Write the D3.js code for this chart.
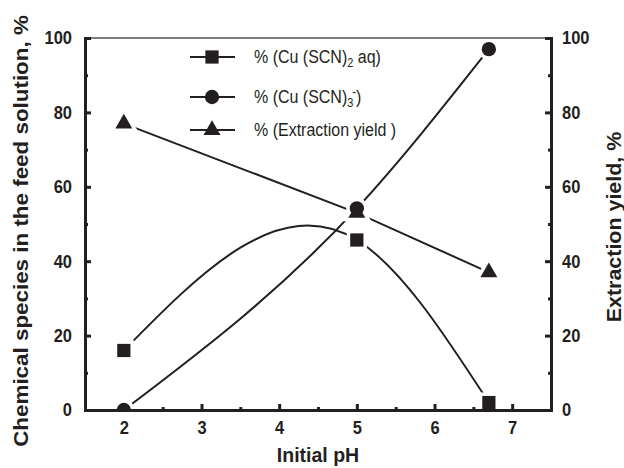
<!DOCTYPE html>
<html>
<head>
<meta charset="utf-8">
<script src="https://cdn.jsdelivr.net/npm/d3@7"></script>
<style>
  html, body { margin: 0; padding: 0; background: #fff; }
  svg { display: block; font-family: 'Liberation Sans', Arial, sans-serif; }
</style>
</head>
<body>
<div id="chart"></div>
<script>
// Data
const phValues = [2, 5, 6.7];
const cuScn2Aq = [16, 45.7, 2];      // % (Cu(SCN)2 aq)
const cuScn3 = [0, 54.2, 97];        // % (Cu(SCN)3-)
const extractionYield = [77, 53, 37]; // % extraction yield
const xTicks = [2, 3, 4, 5, 6, 7];
const xMinorTicks = [2.5, 3.5, 4.5, 5.5, 6.5];
const yTicks = [0, 20, 40, 60, 80, 100];
const yMinorTicks = [10, 30, 50, 70, 90];

const ink = '#231f20';
const width = 624, height = 468;
const margin = { top: 38, right: 73, bottom: 58, left: 85 };

// Natural cubic spline in x, passed to d3.line as a curve factory
function curveNaturalX(context) {
  let xs, ys;
  return {
    areaStart() {}, areaEnd() {},
    lineStart() { xs = []; ys = []; },
    point(x, y) { xs.push(+x); ys.push(+y); },
    lineEnd() {
      const n = xs.length;
      if (!n) return;
      context.moveTo(xs[0], ys[0]);
      if (n < 3) { if (n === 2) context.lineTo(xs[1], ys[1]); return; }
      const h = [], s = [];
      for (let i = 0; i < n - 1; i++) { h[i] = xs[i + 1] - xs[i]; s[i] = (ys[i + 1] - ys[i]) / h[i]; }
      const a = [], b = [], c = [], r = [];
      for (let i = 1; i < n - 1; i++) {
        a.push(h[i - 1]); b.push(2 * (h[i - 1] + h[i])); c.push(h[i]); r.push(6 * (s[i] - s[i - 1]));
      }
      const m = b.length;
      for (let i = 1; i < m; i++) { const w = a[i] / b[i - 1]; b[i] -= w * c[i - 1]; r[i] -= w * r[i - 1]; }
      const M = new Array(n).fill(0);
      M[m] = r[m - 1] / b[m - 1];
      for (let i = m - 2; i >= 0; i--) M[i + 1] = (r[i] - c[i] * M[i + 2]) / b[i];
      for (let i = 0; i < n - 1; i++) {
        const d0 = s[i] - h[i] * (2 * M[i] + M[i + 1]) / 6;
        const d1 = s[i] + h[i] * (M[i] + 2 * M[i + 1]) / 6;
        context.bezierCurveTo(xs[i] + h[i] / 3, ys[i] + d0 * h[i] / 3,
          xs[i + 1] - h[i] / 3, ys[i + 1] - d1 * h[i] / 3, xs[i + 1], ys[i + 1]);
      }
    }
  };
}

const series = [
  { name: 'sq', values: cuScn2Aq, symbol: d3.symbolSquare, size: 175, curve: curveNaturalX },
  { name: 'ci', values: cuScn3, symbol: d3.symbolCircle, size: 160, curve: curveNaturalX },
  { name: 'tr', values: extractionYield, symbol: d3.symbolTriangle, size: 125, curve: d3.curveLinear }
];

const svg = d3.select('#chart')
  .append('svg')
  .attr('width', width)
  .attr('height', height);

// Scales
const x = d3.scaleLinear().domain([1.5, 7.5]).range([margin.left, width - margin.right]);
const y = d3.scaleLinear().domain([0, 100]).range([height - margin.bottom, margin.top]);

svg.append('clipPath').attr('id', 'plot-clip')
  .append('rect')
  .attr('x', x(1.5)).attr('y', y(100))
  .attr('width', x(7.5) - x(1.5)).attr('height', y(0) - y(100));

const plot = svg.append('g').attr('clip-path', 'url(#plot-clip)');

// Lines
series.forEach(s => {
  plot.append('path')
    .datum(phValues.map((p, i) => [p, s.values[i]]))
    .attr('fill', 'none')
    .attr('stroke', ink)
    .attr('stroke-width', 2)
    .attr('d', d3.line().x(d => x(d[0])).y(d => y(d[1])).curve(s.curve));
});

// White halos leave a small gap between line ends and markers
series.forEach(s => {
  plot.selectAll(null)
    .data(phValues.map((p, i) => [p, s.values[i]]))
    .enter()
    .append('path')
    .attr('transform', d => `translate(${x(d[0])},${y(d[1])})`)
    .attr('d', d3.symbol(s.symbol, s.size))
    .attr('fill', '#fff')
    .attr('stroke', '#fff')
    .attr('stroke-width', 7);
});

// Markers (triangles first, circles on top)
[series[2], series[0], series[1]].forEach(s => {
  plot.selectAll(null)
    .data(phValues.map((p, i) => [p, s.values[i]]))
    .enter()
    .append('path')
    .attr('transform', d => `translate(${x(d[0])},${y(d[1])})`)
    .attr('d', d3.symbol(s.symbol, s.size))
    .attr('fill', ink);
});

// Axes
function styleAxis(g) {
  g.select('.domain').attr('stroke', ink).attr('stroke-width', 3).attr('stroke-linecap', 'square');
  g.selectAll('.tick line').attr('stroke', ink).attr('stroke-width', 3);
  g.selectAll('.tick text')
    .attr('fill', ink)
    .style('font-size', '16.5px')
    .style('font-weight', 'bold')
    .attr('transform', 'scale(1,1.1)');
}

svg.append('line')
  .attr('x1', x(1.5)).attr('x2', x(7.5))
  .attr('y1', y(100)).attr('y2', y(100))
  .attr('stroke', '#555').attr('stroke-width', 1.4);

svg.append('g')
  .attr('transform', `translate(0,${y(0)})`)
  .call(d3.axisBottom(x).tickValues(xMinorTicks).tickSize(-3).tickSizeOuter(0).tickFormat(''))
  .call(styleAxis);
svg.append('g')
  .attr('transform', `translate(0,${y(0)})`)
  .call(d3.axisBottom(x).tickValues(xTicks).tickSize(-6).tickSizeOuter(0).tickPadding(10).tickFormat(d3.format('d')))
  .call(styleAxis);

svg.append('g')
  .attr('transform', `translate(${x(1.5)},0)`)
  .call(d3.axisLeft(y).tickValues(yMinorTicks).tickSize(-3).tickSizeOuter(0).tickFormat(''))
  .call(styleAxis);
svg.append('g')
  .attr('transform', `translate(${x(1.5)},0)`)
  .call(d3.axisLeft(y).tickValues(yTicks).tickSize(-6).tickSizeOuter(0).tickPadding(13))
  .call(styleAxis);

svg.append('g')
  .attr('transform', `translate(${x(7.5)},0)`)
  .call(d3.axisRight(y).tickValues(yMinorTicks).tickSize(-3).tickSizeOuter(0).tickFormat(''))
  .call(styleAxis);
svg.append('g')
  .attr('transform', `translate(${x(7.5)},0)`)
  .call(d3.axisRight(y).tickValues(yTicks).tickSize(-6).tickSizeOuter(0).tickPadding(11))
  .call(styleAxis);

// Axis titles
svg.append('text')
  .attr('transform', `translate(28,231) rotate(-90) scale(1.12,1)`)
  .attr('text-anchor', 'middle')
  .attr('fill', ink)
  .style('font-size', '20px')
  .style('font-weight', 'bold')
  .text('Chemical species in the feed solution, %');

svg.append('text')
  .attr('transform', `translate(621,227) rotate(-90) scale(1.1,1)`)
  .attr('text-anchor', 'middle')
  .attr('fill', ink)
  .style('font-size', '19.5px')
  .style('font-weight', 'bold')
  .text('Extraction yield, %');

svg.append('text')
  .attr('x', (x(1.5) + x(7.5)) / 2)
  .attr('y', 462)
  .attr('text-anchor', 'middle')
  .attr('fill', ink)
  .style('font-size', '19.5px')
  .style('font-weight', 'bold')
  .text('Initial pH');

// Legend
const legendRows = [
  { s: series[0], y: 57, parts: [['% (Cu (SCN)', 0, 16], ['2', 4, 11], [' aq)', -4, 16]] },
  { s: series[1], y: 97, parts: [['% (Cu (SCN)', 0, 16], ['3', 4, 11], ['-', -10, 11], [')', 6, 16]] },
  { s: series[2], y: 130, parts: [['% (Extraction yield )', 0, 16]] }
];

const legend = svg.append('g');
legendRows.forEach(row => {
  legend.append('line')
    .attr('x1', 190).attr('x2', 235)
    .attr('y1', row.y).attr('y2', row.y)
    .attr('stroke', ink).attr('stroke-width', 2);
  legend.append('path')
    .attr('transform', `translate(212,${row.y})`)
    .attr('d', d3.symbol(row.s.symbol, row.s.size))
    .attr('fill', ink);
  const t = legend.append('text')
    .attr('transform', `translate(254,${row.y + 6}) scale(1,1.12)`)
    .attr('fill', ink);
  row.parts.forEach(([txt, dy, fs]) => {
    t.append('tspan')
      .attr('dy', dy)
      .attr('dx', txt === '-' ? -1 : 0)
      .style('font-size', fs + 'px')
      .text(txt);
  });
});
</script>
</body>
</html>
